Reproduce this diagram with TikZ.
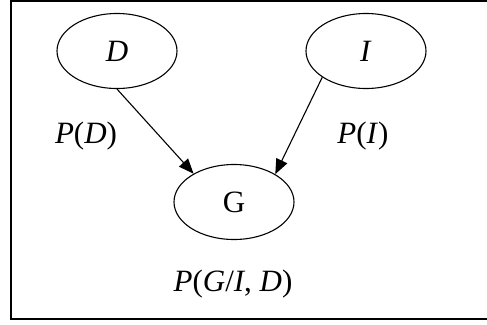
\documentclass[tikz,border=0pt]{standalone}
\usepackage{fontspec}
\setmainfont{Liberation Serif}
\usetikzlibrary{shapes.geometric,arrows.meta}
\tikzset{
    var/.style={draw,ellipse,line width=1.1pt,minimum width=120pt,minimum height=75pt,inner sep=0pt,font=\fontsize{31}{35}\selectfont},
    prob/.style={font=\fontsize{31}{35}\selectfont},
    edge/.style={line width=1.1pt,-{Triangle[length=15pt,width=12pt]}}
}
\begin{document}
\begin{tikzpicture}[x=1pt,y=-1pt]
                \useasboundingbox (0,0) rectangle (487,324);
                \draw[line width=2.5pt] (11,1) rectangle (492,319);
                
                \node[var] (d) at (117,51) {\textit{D}};
                \node[var] (i) at (366,51) {\textit{I}};
                \node[var] (g) at (234,202) {G};
                
                \node[prob] (pd) at (86,136) {\textit{P}(\textit{D})};
                \node[prob] (pi) at (363,136) {\textit{P}(\textit{I})};
                \node[prob] (pg) at (233,284) {\textit{P}(\textit{G}/\textit{I}, \textit{D})};
                
                \draw[edge] (d.south) -- (g.145);
                \draw[edge] (i.211) -- (g.34);
            \end{tikzpicture}
\end{document}
